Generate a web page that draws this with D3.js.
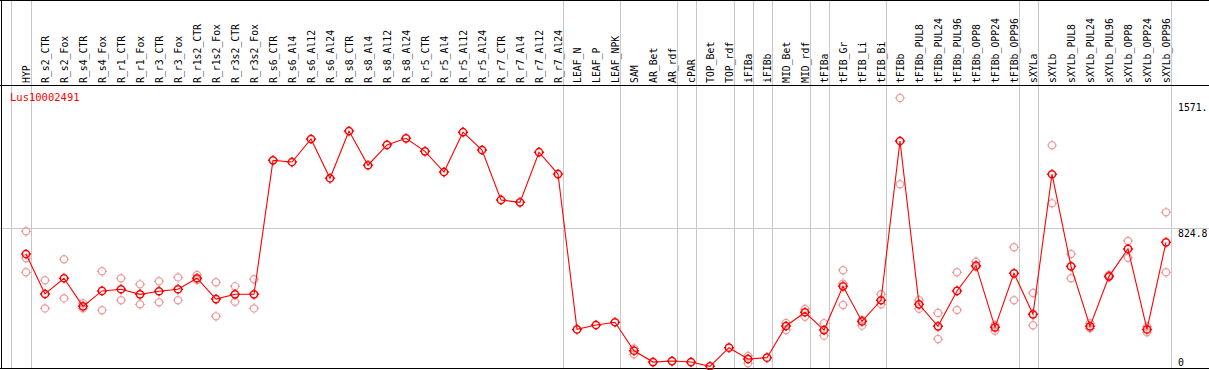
<!DOCTYPE html>
<html>
  <head>
    <meta charset="utf-8">
    <title>Lus10002491</title>
    <script src="https://d3js.org/d3.v7.min.js"></script>
    <style>
      body { margin: 0; background: #fff; }
      text { font-family: "DejaVu Sans Mono", monospace; font-size: 9.8px; }
    </style>
  </head>
  <body>
    <div id="chart"></div>
    <script>
      // samples along the x axis
      var categories = ["HYP",
        "R_s2_CTR", "R_s2_Fox", "R_s4_CTR", "R_s4_Fox", "R_r1_CTR", "R_r1_Fox", "R_r3_CTR", "R_r3_Fox",
        "R_r1s2_CTR", "R_r1s2_Fox", "R_r3s2_CTR", "R_r3s2_Fox",
        "R_s6_CTR", "R_s6_Al4", "R_s6_Al12", "R_s6_Al24", "R_s8_CTR", "R_s8_Al4", "R_s8_Al12", "R_s8_Al24",
        "R_r5_CTR", "R_r5_Al4", "R_r5_Al12", "R_r5_Al24", "R_r7_CTR", "R_r7_Al4", "R_r7_Al12", "R_r7_Al24",
        "LEAF_N", "LEAF_P", "LEAF_NPK",
        "SAM", "AR_Bet", "AR_rdf", "cPAR", "TOP_Bet", "TOP_rdf", "iFIBa", "iFIBb", "MID_Bet", "MID_rdf",
        "tFIBa", "tFIB_Gr", "tFIB_Li", "tFIB_Bi",
        "tFIBb", "tFIBb_PUL8", "tFIBb_PUL24", "tFIBb_PUL96", "tFIBb_OPP8", "tFIBb_OPP24", "tFIBb_OPP96",
        "sXYLa", "sXYLb", "sXYLb_PUL8", "sXYLb_PUL24", "sXYLb_PUL96", "sXYLb_OPP8", "sXYLb_OPP24", "sXYLb_OPP96"];

      // mean expression per sample
      var means = [673,
        437, 530, 364, 455, 465, 435, 453, 465,
        530, 407, 435, 435,
        1226, 1216, 1352, 1120, 1399, 1197, 1317, 1356,
        1279, 1157, 1392, 1287, 992, 978, 1274, 1145,
        228, 254, 270,
        102, 35, 41, 35, 10, 120, 53, 61, 248, 329,
        224, 482, 275, 400,
        1340, 376, 246, 455, 604, 240, 559,
        317, 1144, 600, 246, 541, 703, 228, 742];

      // individual replicates per sample
      var replicates = [[807, 648, 565],
        [518, 352], [642, 411], [382, 352], [571, 341], [530, 400], [494, 376], [512, 388], [535, 400],
        [549, 520], [506, 305], [482, 391], [524, 352],
        [], [], [], [], [], [], [], [],
        [], [], [], [], [], [], [], [],
        [], [], [],
        [116, 81], [], [], [], [], [], [71, 28], [], [266, 224], [348, 303],
        [264, 191], [577, 498, 372], [283, 250], [435, 376],
        [1594, 1085], [401, 350], [325, 171], [565, 342], [628, 596], [254, 220], [713, 400],
        [443, 252], [1315, 972], [673, 530], [264, 234], [549, 537], [750, 651], [244, 211], [919, 565]];

      // separators are drawn after these samples
      var groupEnds = ["HYP", "R_r7_Al24", "LEAF_NPK", "AR_rdf", "cPAR", "TOP_rdf", "iFIBa", "iFIBb",
        "MID_rdf", "tFIBa", "tFIB_Bi", "tFIBb_OPP96", "sXYLa", "sXYLb_OPP96"];

      var yTicks = [0, 824.8, 1571.6];
      var title = "Lus10002491";

      var width = 1209, height = 370;
      var headerBottom = 85, plotBottom = 368;

      var svg = d3.select("#chart")
        .append("svg")
          .attr("width", width)
          .attr("height", height);

      var x = d3.scalePoint()
        .domain(categories)
        .range([26, 1166]);

      var y = d3.scaleLinear()
        .domain([0, 1571.6])
        .range([plotBottom, 101.8]);

      // vertical group separators
      var sepX = [x(categories[0]) - 15.5].concat(groupEnds.map(function(c) { return x(c) + 4.5; }));
      svg.selectAll(".sep")
        .data(sepX)
        .enter()
        .append("line")
          .attr("x1", function(d) { return Math.round(d) + 0.5; })
          .attr("x2", function(d) { return Math.round(d) + 0.5; })
          .attr("y1", 0)
          .attr("y2", plotBottom)
          .attr("stroke", "#c8c8c8");

      // horizontal grid at the middle tick
      svg.append("line")
        .attr("x1", 0).attr("x2", width)
        .attr("y1", Math.round(y(yTicks[1])) + 0.5)
        .attr("y2", Math.round(y(yTicks[1])) + 0.5)
        .attr("stroke", "#c8c8c8");

      // frame
      [0.5, headerBottom + 0.5, plotBottom + 0.5].forEach(function(yy) {
        svg.append("line")
          .attr("x1", 0).attr("x2", width)
          .attr("y1", yy).attr("y2", yy)
          .attr("stroke", "#000");
      });
      svg.append("line")
        .attr("x1", 1.5).attr("x2", 1.5)
        .attr("y1", 0).attr("y2", plotBottom)
        .attr("stroke", "#000");

      // rotated sample labels
      svg.selectAll(".lab")
        .data(categories)
        .enter()
        .append("text")
          .attr("transform", function(d) { return "translate(" + (x(d) + 3.5) + "," + (headerBottom - 2) + ")rotate(-90)"; })
          .attr("fill", "#000")
          .text(function(d) { return d; });

      // value labels on the right (only five characters fit)
      svg.selectAll(".ytick")
        .data(yTicks)
        .enter()
        .append("text")
          .attr("x", 1178)
          .attr("y", function(d) { return Math.min(y(d) + 8.8, plotBottom - 2); })
          .attr("fill", "#000")
          .text(function(d) { return String(d).slice(0, 5); });

      svg.append("text")
        .attr("x", 10)
        .attr("y", 101)
        .attr("fill", "#ff0000")
        .style("font-size", "10.5px")
        .text(title);

      // small ring marker with ticks
      var r = 3.6;
      var markerPath = d3.path();
      markerPath.moveTo(r, 0);
      markerPath.arc(0, 0, r, 0, 2 * Math.PI);
      [[0, -1], [0, 1], [-1, 0], [1, 0]].forEach(function(v) {
        markerPath.moveTo(v[0] * r, v[1] * r);
        markerPath.lineTo(v[0] * (r + 1.5), v[1] * (r + 1.5));
      });
      markerPath = markerPath.toString();

      // replicate points
      var reps = [];
      replicates.forEach(function(list, i) {
        list.forEach(function(v) { reps.push({cat: categories[i], value: v}); });
      });
      svg.selectAll(".rep")
        .data(reps)
        .enter()
        .append("path")
          .attr("d", markerPath)
          .attr("transform", function(d) { return "translate(" + x(d.cat) + "," + y(d.value) + ")"; })
          .attr("fill", "none")
          .attr("stroke", "#ee9a9a")
          .attr("stroke-width", 1.2);

      // mean line
      var meanData = categories.map(function(c, i) { return {cat: c, value: means[i]}; });
      svg.append("path")
        .datum(meanData)
        .attr("d", d3.line()
          .x(function(d) { return x(d.cat); })
          .y(function(d) { return y(d.value); }))
        .attr("fill", "none")
        .attr("stroke", "#ff0000")
        .attr("stroke-width", 1.1);

      svg.selectAll(".mean")
        .data(meanData)
        .enter()
        .append("path")
          .attr("d", markerPath)
          .attr("transform", function(d) { return "translate(" + x(d.cat) + "," + y(d.value) + ")"; })
          .attr("fill", "none")
          .attr("stroke", "#ff0000")
          .attr("stroke-width", 1.5);
    </script>
  </body>
</html>
